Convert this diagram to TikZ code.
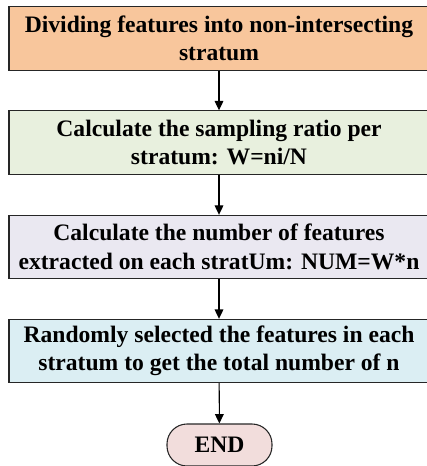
\documentclass[tikz,border=0pt]{standalone}
\usepackage{fontspec}
\setmainfont{Liberation Serif}
\usetikzlibrary{arrows.meta}
\definecolor{cOrange}{RGB}{248,198,156}
\definecolor{cGreen}{RGB}{232,240,222}
\definecolor{cLav}{RGB}{234,232,241}
\definecolor{cBlue}{RGB}{219,238,243}
\definecolor{cPink}{RGB}{242,221,220}
\tikzset{
  stepbox/.style={draw=black!85, line width=0.8pt, minimum width=315pt, minimum height=47.5pt,
    inner sep=0pt, align=center, font=\fontsize{17.7}{21.2}\selectfont\bfseries},
  endbox/.style={draw=black!85, line width=0.8pt, fill=cPink, rounded corners=15pt,
    minimum width=78.75pt, minimum height=31.5pt, inner sep=0pt,
    font=\fontsize{17.7}{21.2}\selectfont\bfseries},
  flow/.style={draw=black, line width=0.8pt, -{Triangle[length=7pt,width=6.5pt]}}
}
\begin{document}
\begin{tikzpicture}[x=0.75pt,y=-0.75pt]
\useasboundingbox (0,0) rectangle (426,466);
\node[stepbox, fill=cOrange] (s1) at (219,38.5) {Dividing features into non-intersecting\\stratum};
\node[stepbox, fill=cGreen] (s2) at (219,142.5) {Calculate the sampling ratio per\\stratum: W=ni/N};
\node[stepbox, fill=cLav] (s3) at (219,247) {Calculate the number of features\\extracted on each stratUm: NUM=W*n};
\node[stepbox, fill=cBlue] (s4) at (219,351) {Randomly selected the features in each\\stratum to get the total number of n};
\node[endbox] (e) at (219.5,445) {END};
\draw[flow] (s1) -- (s2);
\draw[flow] (s2) -- (s3);
\draw[flow] (s3) -- (s4);
\draw[flow] (s4) -- (e);
\end{tikzpicture}
\end{document}
